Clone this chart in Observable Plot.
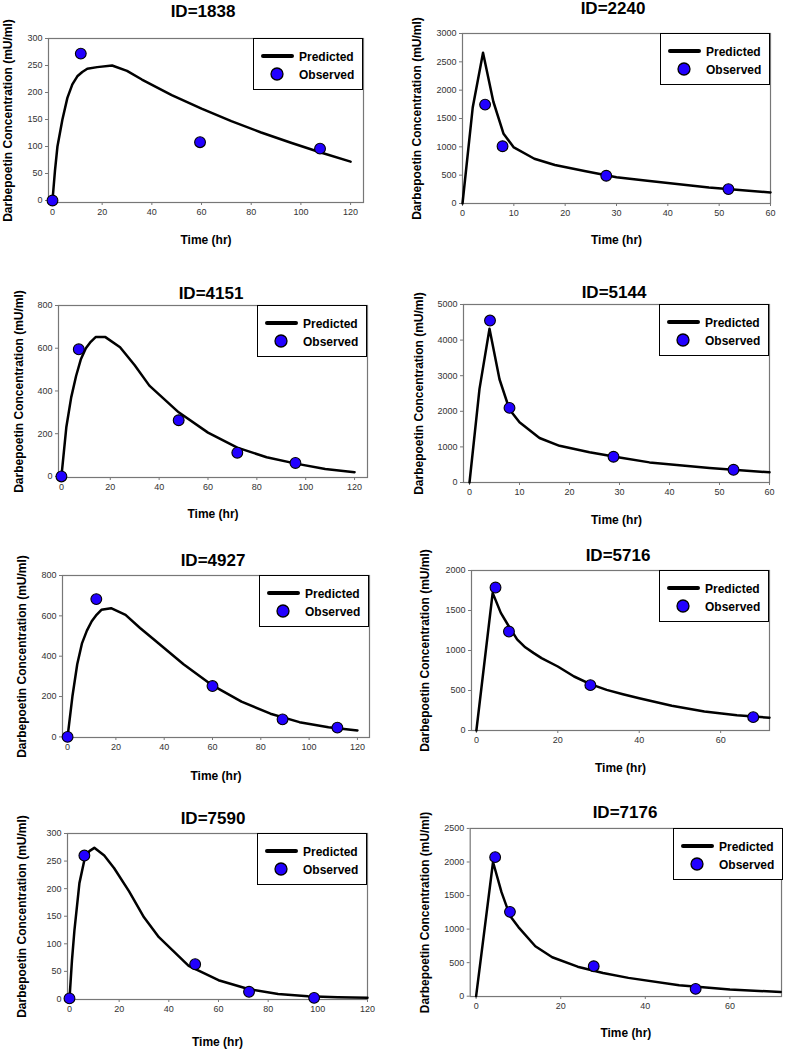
<!DOCTYPE html>
<html><head><meta charset="utf-8">
<script src="https://cdn.jsdelivr.net/npm/d3@7"></script>
<script src="https://cdn.jsdelivr.net/npm/@observablehq/plot@0.6"></script>
<style>
body{margin:0;background:#fff;}
#root{position:relative;width:787px;height:1050px;overflow:hidden;font-family:"Liberation Sans",Arial,sans-serif;}
.title{position:absolute;transform:translate(-50%,-50%);font-weight:bold;font-size:17px;white-space:nowrap;color:#000;}
.panel{position:absolute;}
.legend{position:absolute;box-sizing:border-box;border:1.3px solid #000;background:#fff;width:110px;height:52px;}
</style></head><body><div id="root"></div>
<script>
// ---- data ----
const ids = ["1838","2240","4151","5144","4927","5716","7590","7176"];
const yLabel = "Darbepoetin Concentration (mU/ml)";
const xLabel = "Time (hr)";
const legendLabels = ["Predicted","Observed"];

const predT_1838 = [0,1,2,4,6,8,10,12,14,18,24,30,36,48,60,72,84,96,108,120];
const predC_1838 = [0,55,100,150,190,215,230,238,244,247,250,240,224,195,170,147,126,107,89,72];
const obsT_1838 = [0,11.4,59.4,107.7];
const obsC_1838 = [0,272,108,96];

const predT_2240 = [0,2,4,6,8,10,14,18,24,30,36,48,60];
const predC_2240 = [0,1700,2660,1800,1230,990,790,680,570,465,402,283,195];
const obsT_2240 = [4.4,7.8,28,51.8];
const obsC_2240 = [1745,1010,490,254];

const predT_4151 = [0,2,4,6,8,10,12,14,18,24,30,36,48,60,72,84,96,108,120];
const predC_4151 = [0,230,370,470,550,600,630,652,652,605,520,425,300,205,135,90,60,35,20];
const obsT_4151 = [0,7.1,48,72,95.8];
const obsC_4151 = [0,595,263,111,63];

const predT_5144 = [0,2,4,6,8,10,14,18,24,30,36,48,60];
const predC_5144 = [0,2630,4320,2900,2050,1690,1250,1030,850,700,565,410,285];
const obsT_5144 = [4.1,8,28.8,52.8];
const obsC_5144 = [4549,2096,724,357];

const predT_4927 = [0,2,4,6,8,10,12,14,18,24,30,36,48,60,72,84,96,108,120];
const predC_4927 = [0,200,360,465,527,573,605,630,638,605,540,480,360,255,175,115,73,48,32];
const obsT_4927 = [0,11.9,60,89,111.7];
const obsC_4927 = [0,683,252,87,46];

const predT_5716 = [0,4,6,8,10,12,14,16,20,24,28,32,36,40,48,56,64,72];
const predC_5716 = [0,1720,1470,1300,1140,1040,970,905,800,675,579,508,454,404,310,237,190,160];
const obsT_5716 = [4.7,8,28,68];
const obsC_5716 = [1787,1237,567,167];

const predT_7590 = [0,1,2,4,6,8,10,14,18,24,30,36,48,60,72,84,96,108,120];
const predC_7590 = [0,70,125,210,252,268,274,260,237,195,148,112,60,34,18,9,5,3,2];
const obsT_7590 = [0,6,50.6,72.3,98.5];
const obsC_7590 = [1,260,63,13,2];

const predT_7176 = [0,4,6,8,10,14,18,24,30,36,48,60,72];
const predC_7176 = [0,2000,1550,1200,1030,745,580,440,345,273,164,100,62];
const obsT_7176 = [4.5,8,27.8,51.9];
const obsC_7176 = [2072,1257,447,109];

const xTicks_1838 = [0,20,40,60,80,100,120];
const yTicks_1838 = [0,50,100,150,200,250,300];
const xTicks_2240 = [0,10,20,30,40,50,60];
const yTicks_2240 = [0,500,1000,1500,2000,2500,3000];
const xTicks_4151 = [0,20,40,60,80,100,120];
const yTicks_4151 = [0,200,400,600,800];
const xTicks_5144 = [0,10,20,30,40,50,60];
const yTicks_5144 = [0,1000,2000,3000,4000,5000];
const xTicks_4927 = [0,20,40,60,80,100,120];
const yTicks_4927 = [0,200,400,600,800];
const xTicks_5716 = [0,20,40,60];
const yTicks_5716 = [0,500,1000,1500,2000];
const xTicks_7590 = [0,20,40,60,80,100,120];
const yTicks_7590 = [0,50,100,150,200,250,300];
const xTicks_7176 = [0,20,40,60];
const yTicks_7176 = [0,500,1000,1500,2000,2500];

const series = {
  "1838": [predT_1838, predC_1838, obsT_1838, obsC_1838, xTicks_1838, yTicks_1838],
  "2240": [predT_2240, predC_2240, obsT_2240, obsC_2240, xTicks_2240, yTicks_2240],
  "4151": [predT_4151, predC_4151, obsT_4151, obsC_4151, xTicks_4151, yTicks_4151],
  "5144": [predT_5144, predC_5144, obsT_5144, obsC_5144, xTicks_5144, yTicks_5144],
  "4927": [predT_4927, predC_4927, obsT_4927, obsC_4927, xTicks_4927, yTicks_4927],
  "5716": [predT_5716, predC_5716, obsT_5716, obsC_5716, xTicks_5716, yTicks_5716],
  "7590": [predT_7590, predC_7590, obsT_7590, obsC_7590, xTicks_7590, yTicks_7590],
  "7176": [predT_7176, predC_7176, obsT_7176, obsC_7176, xTicks_7176, yTicks_7176]
};

// ---- layout (page pixels) ----
const layout = {
  "1838": {L:48, R:363, T:38, B:202, xd:[-1.6,125.2], yd:[-3.7,300], tx:203, ty:12, yo:40, xo:38},
  "2240": {L:462, R:770, T:33, B:203, xd:[0,60], yd:[0,3000], tx:613, ty:9, yo:45, xo:37},
  "4151": {L:58, R:367, T:305, B:477, xd:[-1.2,125.3], yd:[-5,800], tx:211, ty:294, yo:39, xo:37},
  "5144": {L:463, R:769, T:304, B:482, xd:[-1.2,60], yd:[0,5000], tx:614, ty:293, yo:44, xo:38},
  "4927": {L:62, R:369, T:575, B:737, xd:[-2.1,125], yd:[-3,800], tx:213, ty:561, yo:40, xo:39},
  "5716": {L:471, R:769, T:570, B:730, xd:[-1.2,72], yd:[0,2000], tx:618, ty:556, yo:46, xo:38},
  "7590": {L:67, R:367, T:833, B:999, xd:[-0.8,120], yd:[-1,300], tx:213, ty:819, yo:45, xo:43},
  "7176": {L:470, R:783, T:828, B:997, xd:[-1.4,72.2], yd:[-5,2500], tx:625, ty:813, yo:45, xo:37}
};

const DOT = "#2200ff";
const root = document.getElementById("root");

for (const id of ids) {
  const [pt, pc, ot, oc, xt, yt] = series[id];
  const g = layout[id];
  const pred = pt.map((t, i) => ({t, c: pc[i]}));
  const obs = ot.map((t, i) => ({t, c: oc[i]}));
  const mL = 60, mT = 10, mR = 6, mB = 55;
  const W = (g.R - g.L) + mL + mR, H = (g.B - g.T) + mT + mB;

  const chart = Plot.plot({
    width: W, height: H,
    marginLeft: mL, marginRight: mR, marginTop: mT, marginBottom: mB,
    x: {domain: g.xd},
    y: {domain: g.yd},
    style: {fontFamily: "'Liberation Sans', Arial, sans-serif", fontSize: "9px", background: "transparent", overflow: "visible"},
    marks: [
      Plot.axisX({ticks: xt, tickSize: 3, tickPadding: 3, label: null, color: "#333", stroke: "#777", tickFormat: d => String(d)}),
      Plot.axisY({ticks: yt, tickSize: 3, tickPadding: 3, label: null, color: "#333", stroke: "#777", tickFormat: d => String(d)}),
      Plot.frame({stroke: "#777", strokeWidth: 1.2}),
      Plot.line(pred, {x: "t", y: "c", stroke: "#000", strokeWidth: 2.5, strokeLinejoin: "round"}),
      Plot.dot(obs, {x: "t", y: "c", r: 5.4, fill: DOT, stroke: "#000", strokeWidth: 1.1}),
      Plot.text([xLabel], {text: d => d, frameAnchor: "bottom", dy: g.xo, textAnchor: "middle", lineAnchor: "middle", fontWeight: "bold", fontSize: 12, fill: "#000"}),
      Plot.text([yLabel], {text: d => d, frameAnchor: "left", dx: -g.yo, rotate: -90, textAnchor: "middle", lineAnchor: "middle", fontWeight: "bold", fontSize: 12, fill: "#000"})
    ]
  });
  const wrap = document.createElement("div");
  wrap.className = "panel";
  wrap.style.left = (g.L - mL) + "px";
  wrap.style.top = (g.T - mT) + "px";
  wrap.appendChild(chart);
  root.appendChild(wrap);

  const title = document.createElement("div");
  title.className = "title";
  title.style.left = g.tx + "px";
  title.style.top = g.ty + "px";
  title.textContent = "ID=" + id;
  root.appendChild(title);

  const leg = document.createElement("div");
  leg.className = "legend";
  leg.style.left = (g.R - 110) + "px";
  leg.style.top = g.T + "px";
  leg.innerHTML =
    `<svg width="108" height="50" style="position:absolute;left:0;top:0;font-family:'Liberation Sans',Arial,sans-serif">
      <line x1="9" x2="38" y1="17" y2="17" stroke="#000" stroke-width="4" stroke-linecap="round"/>
      <circle cx="23" cy="35" r="6" fill="${DOT}" stroke="#000" stroke-width="1.3"/>
      <text x="45" y="21.5" font-size="12" font-weight="bold">${legendLabels[0]}</text>
      <text x="45" y="39.5" font-size="12" font-weight="bold">${legendLabels[1]}</text>
    </svg>`;
  root.appendChild(leg);
}
</script></body></html>
